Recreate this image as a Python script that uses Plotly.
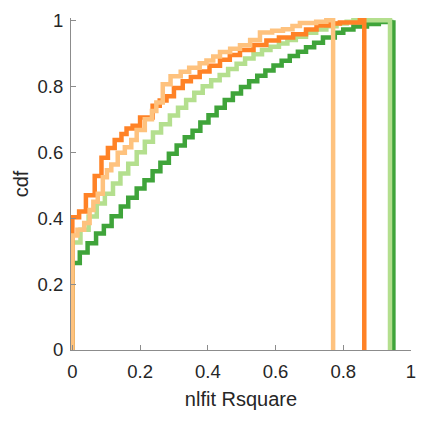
import plotly.graph_objects as go

# ECDF step corners (x, cdf)
dg_x = [0.000, 0.022, 0.045, 0.070, 0.093, 0.116, 0.143, 0.165, 0.190, 0.213, 0.237, 0.260,
        0.285, 0.308, 0.332, 0.355, 0.378, 0.402, 0.426, 0.450, 0.474, 0.498, 0.522, 0.546,
        0.570, 0.594, 0.618, 0.642, 0.666, 0.690, 0.714, 0.740, 0.775, 0.800, 0.830, 0.870,
        0.905, 0.948]
dg_y = [0.264, 0.296, 0.324, 0.353, 0.376, 0.406, 0.435, 0.462, 0.490, 0.515, 0.542, 0.568,
        0.595, 0.620, 0.645, 0.665, 0.690, 0.712, 0.735, 0.758, 0.778, 0.798, 0.815, 0.832,
        0.848, 0.863, 0.877, 0.892, 0.905, 0.918, 0.932, 0.948, 0.962, 0.972, 0.981, 0.989,
        0.995, 1.000]

lg_x = [0.000, 0.024, 0.048, 0.072, 0.096, 0.120, 0.142, 0.165, 0.190, 0.214, 0.238, 0.262,
        0.288, 0.312, 0.336, 0.360, 0.385, 0.410, 0.435, 0.460, 0.485, 0.510, 0.535, 0.560,
        0.585, 0.610, 0.635, 0.660, 0.690, 0.720, 0.750, 0.780, 0.810, 0.830, 0.938]
lg_y = [0.326, 0.365, 0.405, 0.444, 0.474, 0.505, 0.535, 0.565, 0.600, 0.632, 0.660, 0.685,
        0.711, 0.735, 0.758, 0.780, 0.800, 0.818, 0.834, 0.852, 0.868, 0.884, 0.897, 0.910,
        0.920, 0.930, 0.940, 0.950, 0.962, 0.972, 0.982, 0.990, 0.996, 1.000, 1.000]

do_x = [0.000, 0.020, 0.040, 0.066, 0.086, 0.105, 0.125, 0.145, 0.160, 0.178, 0.200, 0.237,
        0.258, 0.278, 0.300, 0.326, 0.350, 0.376, 0.405, 0.436, 0.465, 0.495, 0.535, 0.573,
        0.610, 0.652, 0.690, 0.721, 0.760, 0.790, 0.849, 0.862]
do_y = [0.403, 0.420, 0.469, 0.528, 0.583, 0.613, 0.637, 0.655, 0.672, 0.680, 0.705, 0.741,
        0.757, 0.770, 0.795, 0.815, 0.828, 0.845, 0.862, 0.880, 0.895, 0.910, 0.925, 0.939,
        0.948, 0.958, 0.972, 0.984, 0.990, 0.993, 1.000, 1.000]

lo_x = [0.000, 0.015, 0.035, 0.051, 0.062, 0.075, 0.090, 0.102, 0.115, 0.134, 0.155, 0.174,
        0.190, 0.214, 0.235, 0.248, 0.267, 0.290, 0.320, 0.345, 0.376, 0.396, 0.416, 0.436,
        0.466, 0.495, 0.525, 0.554, 0.590, 0.622, 0.650, 0.672, 0.720, 0.750, 0.770]
lo_y = [0.347, 0.365, 0.385, 0.425, 0.450, 0.474, 0.524, 0.545, 0.563, 0.598, 0.615, 0.637,
        0.667, 0.700, 0.725, 0.751, 0.806, 0.830, 0.844, 0.856, 0.870, 0.878, 0.890, 0.904,
        0.914, 0.924, 0.940, 0.963, 0.968, 0.973, 0.983, 0.992, 0.996, 1.000, 1.000]

series = [
    (dg_x, dg_y, "#3FA43A"),
    (lg_x, lg_y, "#B4DF8E"),
    (do_x, do_y, "#FF8226"),
    (lo_x, lo_y, "#FEC27E"),
]

x_ticks = [0, 0.2, 0.4, 0.6, 0.8, 1]
x_tick_text = ["0", "0.2", "0.4", "0.6", "0.8", "1"]
y_ticks = [0, 0.2, 0.4, 0.6, 0.8, 1]
y_tick_text = ["0", "0.2", "0.4", "0.6", "0.8", "1"]

fig = go.Figure()
for xs, ys, col in series:
    # start at (x0, 0), step through corners, drop back to 0 at the max
    px = [xs[0]] + xs + [xs[-1]]
    py = [0] + ys + [0]
    fig.add_trace(go.Scatter(x=px, y=py, mode="lines", line_shape="hv",
                             line=dict(color=col, width=4.5), showlegend=False,
                             hoverinfo="skip"))

axis_font = dict(family="Liberation Sans, Arial, sans-serif", size=18.5, color="#262626")
fig.update_layout(
    width=430, height=421,
    margin=dict(l=71, r=19, t=10, b=71),
    paper_bgcolor="white", plot_bgcolor="white",
    font=axis_font,
    xaxis=dict(range=[-0.004, 1.0], tickvals=x_ticks, ticktext=x_tick_text,
               showline=True, linecolor="#8C8C8C", linewidth=1, mirror=False,
               ticks="inside", ticklen=5, tickcolor="#8C8C8C", showgrid=False,
               zeroline=False, ticklabelstandoff=5,
               title=dict(text="nlfit Rsquare", font=dict(size=20), standoff=10)),
    yaxis=dict(range=[0, 1.007], tickvals=y_ticks, ticktext=y_tick_text,
               showline=True, linecolor="#8C8C8C", linewidth=1, mirror=False,
               ticks="inside", ticklen=5, tickcolor="#8C8C8C", showgrid=False,
               zeroline=False, ticklabelstandoff=3,
               title=dict(text="cdf", font=dict(size=20), standoff=3)),
)

fig.write_html("out.html")
